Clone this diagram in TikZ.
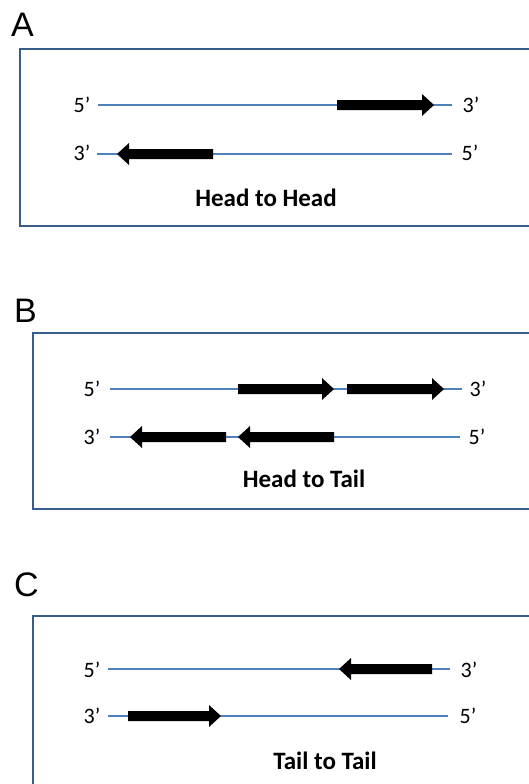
\documentclass[tikz,border=0pt]{standalone}
\usepackage{fontspec}
\setmainfont{Carlito}
\newfontfamily\letterfont{Liberation Sans}
\definecolor{strand}{RGB}{79,129,189}
\definecolor{frameblue}{RGB}{56,93,138}
\newcommand\genearrow[3]{%
  \pgfmathsetmacro\hlen{ifthenelse(#2>#1,12,-12)}%
  \fill[black] ({#1},{#3-5}) -- ({#2-(\hlen)},{#3-5}) -- ({#2-(\hlen)},{#3-11}) -- ({#2},{#3})
    -- ({#2-(\hlen)},{#3+11}) -- ({#2-(\hlen)},{#3+5}) -- ({#1},{#3+5}) -- cycle;}
\begin{document}
\begin{tikzpicture}[x=1pt,y=-1pt,
  frame/.style={draw=frameblue,line width=1.8pt},
  strandline/.style={draw=strand,line width=2.6pt},
  endlabel/.style={anchor=base,inner sep=0pt,font=\fontsize{22}{26}\selectfont},
  caption/.style={anchor=base,inner sep=0pt,font=\fontsize{25}{29}\selectfont\bfseries},
  panel/.style={anchor=base west,inner sep=0pt,font=\letterfont\fontsize{34}{38}\selectfont}]
\useasboundingbox (0,0) rectangle (529,784);
\fill[white] (0,0) rectangle (529,784);
% ---------- Panel A ----------
\node[panel] (A) at (11,37) {A};
\draw[frame] (20,49) rectangle (540,226);
\node[endlabel] (a5l) at (82,112) {5’};
\node[endlabel] (a3r) at (471,112) {3’};
\node[endlabel] (a3l) at (82,160) {3’};
\node[endlabel] (a5r) at (470,160) {5’};
\coordinate (a1s) at (98,105); \coordinate (a1e) at (452,105);
\coordinate (a2s) at (97,154); \coordinate (a2e) at (452,154);
\draw[strandline] (a1s) -- (a1e);
\draw[strandline] (a2s) -- (a2e);
\genearrow{337}{434}{105}
\genearrow{213}{117}{154}
\node[caption] (capA) at (266,206) {Head to Head};
% ---------- Panel B ----------
\node[panel] (B) at (14,322) {B};
\draw[frame] (33,333) rectangle (540,509);
\node[endlabel] (b5l) at (92,396) {5’};
\node[endlabel] (b3r) at (478,396) {3’};
\node[endlabel] (b3l) at (92,444) {3’};
\node[endlabel] (b5r) at (477,444) {5’};
\coordinate (b1s) at (110,389); \coordinate (b1e) at (462,389);
\coordinate (b2s) at (110,437); \coordinate (b2e) at (460,437);
\draw[strandline] (b1s) -- (b1e);
\draw[strandline] (b2s) -- (b2e);
\genearrow{238}{334}{389}
\genearrow{347}{444}{389}
\genearrow{226}{130}{437}
\genearrow{334}{238}{437}
\node[caption] (capB) at (304,487) {Head to Tail};
% ---------- Panel C ----------
\node[panel] (C) at (14,596) {C};
\draw[frame] (33,616) rectangle (540,800);
\node[endlabel] (c5l) at (92,677) {5’};
\node[endlabel] (c3r) at (469,677) {3’};
\node[endlabel] (c3l) at (92,723) {3’};
\node[endlabel] (c5r) at (468,723) {5’};
\coordinate (c1s) at (108,669); \coordinate (c1e) at (450,669);
\coordinate (c2s) at (108,716); \coordinate (c2e) at (448,716);
\draw[strandline] (c1s) -- (c1e);
\draw[strandline] (c2s) -- (c2e);
\genearrow{432}{339}{669}
\genearrow{128}{221}{716}
\node[caption] (capC) at (325,769) {Tail to Tail};
\end{tikzpicture}
\end{document}
